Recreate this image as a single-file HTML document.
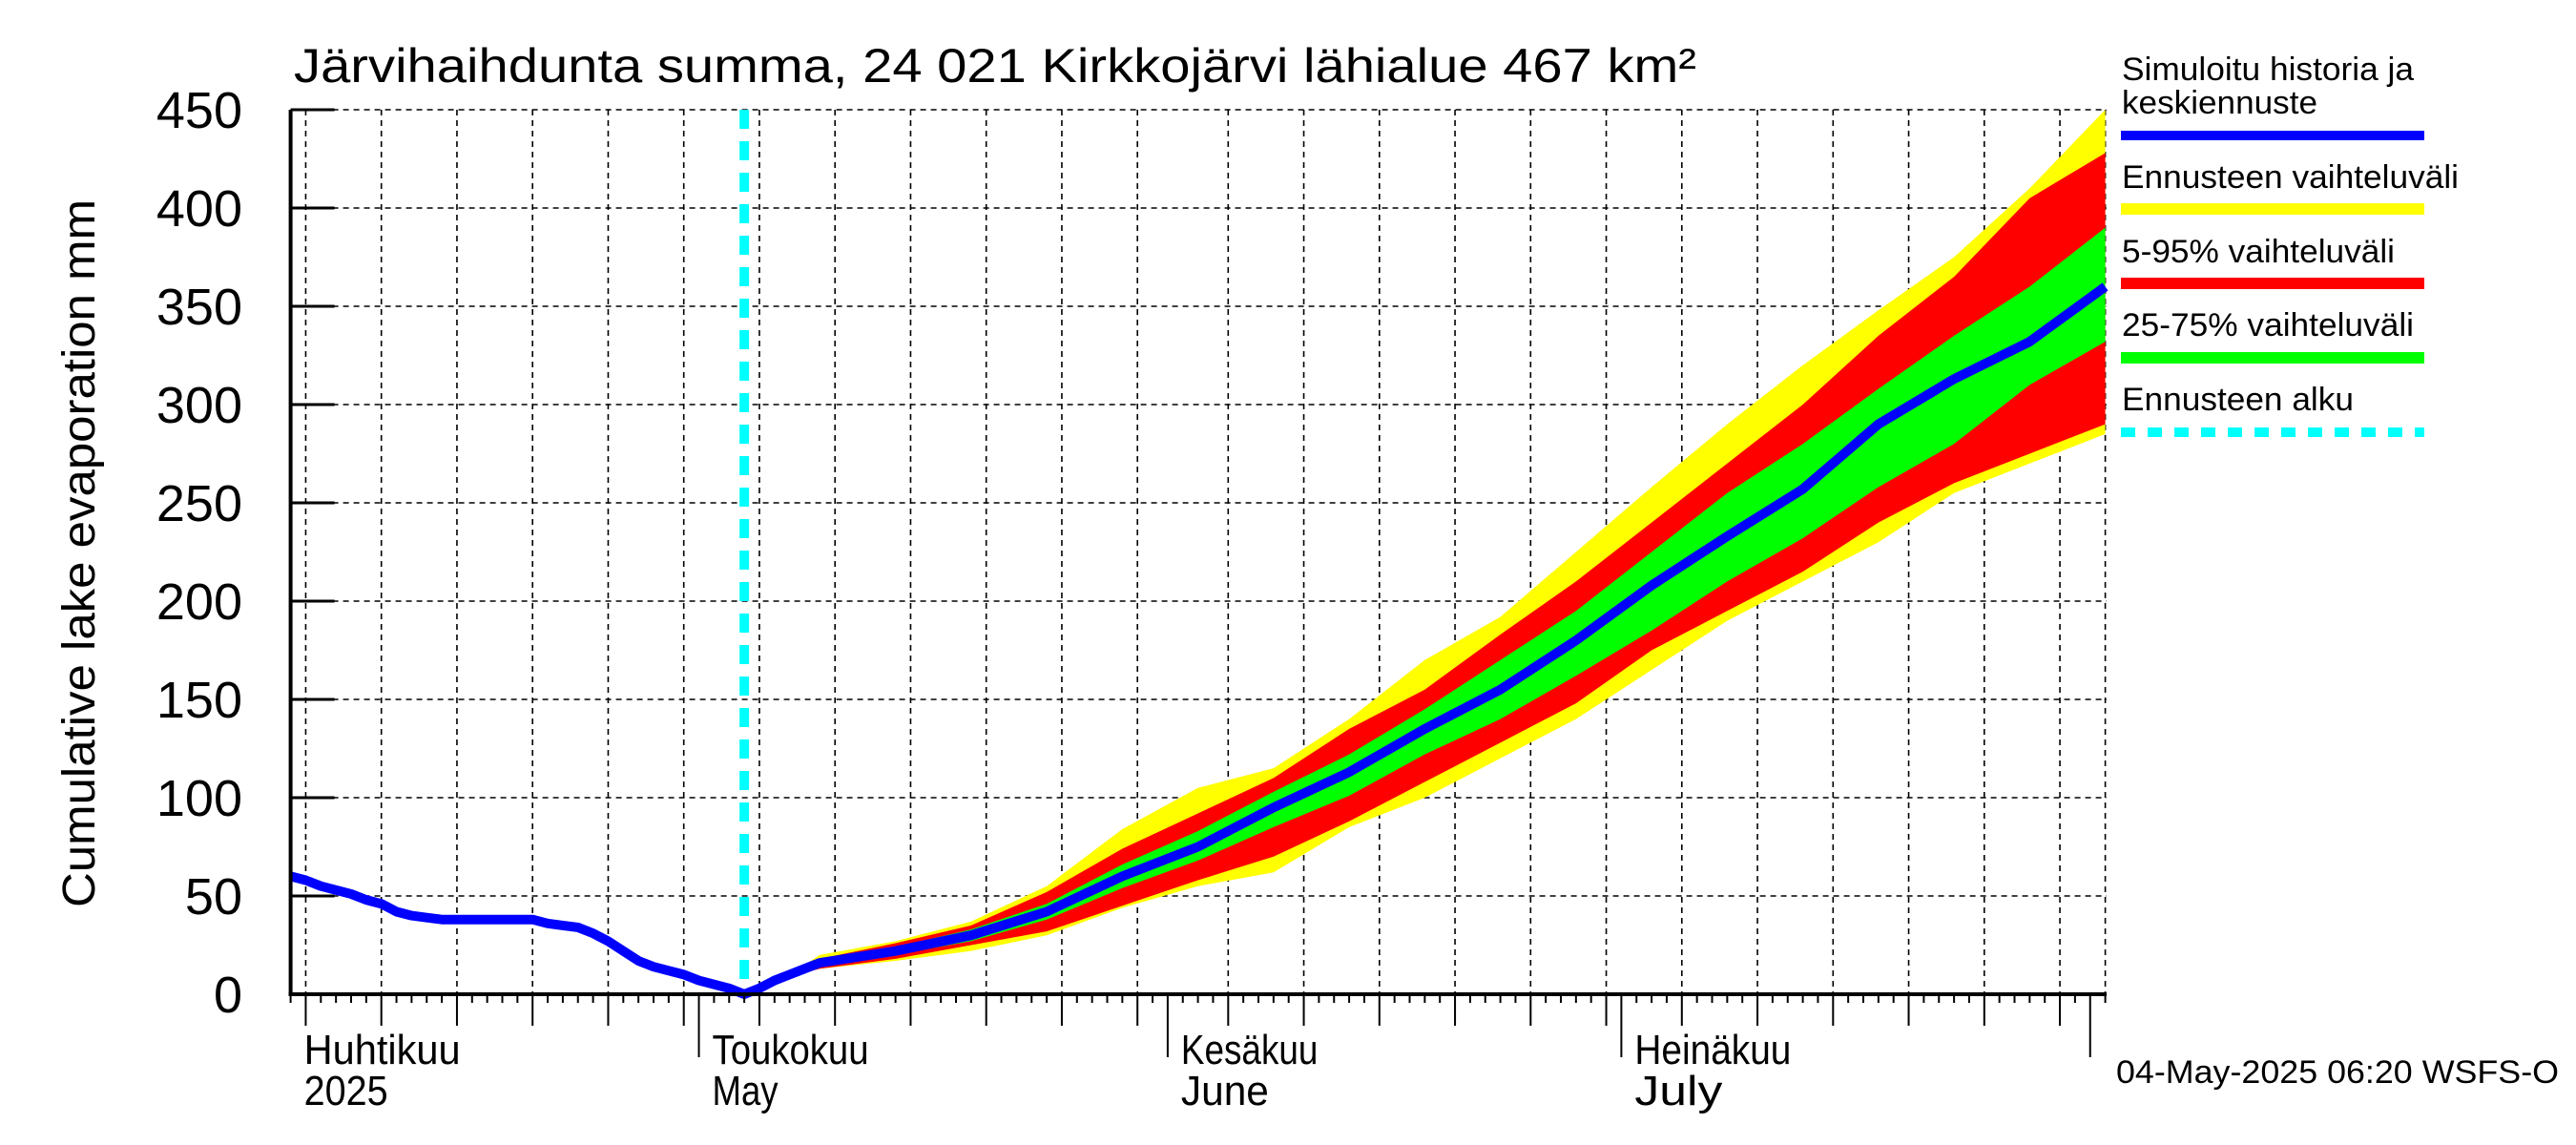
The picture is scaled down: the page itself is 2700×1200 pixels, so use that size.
<!DOCTYPE html>
<html><head><meta charset="utf-8"><style>
html,body{margin:0;padding:0;background:#fff;}
svg{display:block;font-family:"Liberation Sans",Arial,sans-serif;}
</style></head><body>
<svg id="chart" width="2700" height="1200" viewBox="0 0 2700 1200" xmlns="http://www.w3.org/2000/svg">
<g id="grid"></g>
<g id="bands"></g>
<g id="lines"></g>
<g id="axes"></g>
<text x="308" y="86" font-size="50" textLength="1470" lengthAdjust="spacingAndGlyphs">Järvihaihdunta summa, 24 021 Kirkkojärvi lähialue 467 km²</text>
<text transform="translate(99,580) rotate(-90)" text-anchor="middle" font-size="48" textLength="742" lengthAdjust="spacingAndGlyphs">Cumulative lake evaporation   mm</text>
<g font-size="34">
<text x="2224" y="84" textLength="306" lengthAdjust="spacingAndGlyphs">Simuloitu historia ja</text>
<text x="2224" y="119" textLength="205" lengthAdjust="spacingAndGlyphs">keskiennuste</text>
<rect x="2223" y="137" width="318" height="10" fill="#0000ff"/>
<text x="2224" y="197" textLength="353" lengthAdjust="spacingAndGlyphs">Ennusteen vaihteluväli</text>
<rect x="2223" y="213" width="318" height="12" fill="#ffff00"/>
<text x="2224" y="275" textLength="286" lengthAdjust="spacingAndGlyphs">5-95% vaihteluväli</text>
<rect x="2223" y="291" width="318" height="12" fill="#ff0000"/>
<text x="2224" y="352" textLength="306" lengthAdjust="spacingAndGlyphs">25-75% vaihteluväli</text>
<rect x="2223" y="369" width="318" height="12" fill="#00ff00"/>
<text x="2224" y="430" textLength="243" lengthAdjust="spacingAndGlyphs">Ennusteen alku</text>
<line x1="2223" y1="453" x2="2541" y2="453" stroke="#00ffff" stroke-width="10" stroke-dasharray="15 13"/>
</g>
<text x="2218" y="1135" font-size="34" textLength="464" lengthAdjust="spacingAndGlyphs">04-May-2025 06:20 WSFS-O</text>
</svg>
<script>
const historyDays = [0,1,2,3,4,5,6,7,8,9,10,11,12,13,14,15,16,17,18,19,20,21,22,23,24,25,26,27,28,29,30];
const historyValues = [60,58,55,53,51,48,46,42,40,39,38,38,38,38,38,38,38,36,35,34,31,27,22,17,14,12,10,7,5,3,0];
const forecastDays = [30,31,32,33,34,35,40,45,50,55,60,65,70,75,80,85,90,95,100,105,110,115,120];
const medianValues = [0,3,7,10,13,16,22,30,42,60,75,95,113,135,155,180,208,233,257,290,313,332,360];
const p25Values = [0,3,7,10,12,15,20,27,38,54,68,85,101,122,140,162,185,210,232,258,280,310,332];
const p75Values = [0,3,7,10,13,17,24,33,46,66,83,103,122,145,170,195,225,255,280,308,335,360,390];
const p5Values = [0,3,6,9,11,13,18,25,32,45,58,70,88,108,128,148,175,195,215,240,260,275,290];
const p95Values = [0,3,7,11,14,18,26,35,52,74,92,110,135,155,183,210,240,270,300,335,365,405,428];
const minValues = [0,3,6,9,11,13,17,22,30,44,55,62,85,100,120,140,165,190,210,230,255,270,285];
const maxValues = [0,3,8,11,15,20,27,37,55,84,105,115,140,170,192,225,258,290,320,348,375,410,450];
const yTicks = [0,50,100,150,200,250,300,350,400,450];
const gridDays = [1,6,11,16,21,26,31,36,41,46,51,56,62,67,72,77,82,87,92,97,102,107,112,117];
const monthDays = [27,58,88,119];
const monthLabels = [["Huhtikuu","2025",0],["Toukokuu","May",27],["Kesäkuu","June",58],["Heinäkuu","July",88]];
const forecastStartDay = 30;

const X0=304.6, PXD=15.85, Y0=1042, PXV=927/450, XR=2208;
const xs = d => X0 + d*PXD;
const ys = v => Y0 - v*PXV;
const NS="http://www.w3.org/2000/svg";
function mk(tag, parent, attrs){const e=document.createElementNS(NS,tag);for(const k in attrs)e.setAttribute(k,attrs[k]);parent.appendChild(e);return e;}
const grid=document.getElementById('grid'), bands=document.getElementById('bands'), lines=document.getElementById('lines'), axes=document.getElementById('axes');

yTicks.forEach(v=>{
  if(v>0){const g=mk('line',grid,{x1:X0,x2:XR,y1:ys(v),y2:ys(v),stroke:'#000','stroke-width':1.6,'stroke-dasharray':'6 5'});
  
  }
  const t=mk('line',axes,{x1:X0,x2:X0+46,y1:ys(v),y2:ys(v),stroke:'#000','stroke-width':3});
  
  
  const l=mk('text',axes,{x:254,y:ys(v)+19,'text-anchor':'end','font-size':54});
  l.textContent=v;
  
  
});
gridDays.concat([120]).forEach(d=>{
  const g=mk('line',grid,{x1:xs(d),x2:xs(d),y1:ys(450),y2:Y0,stroke:'#000','stroke-width':1.6,'stroke-dasharray':'6 5'});
  
  
});
for(let d=0; d<=120; d++){
  let len=9;
  if(gridDays.includes(d)) len=33;
  if(monthDays.includes(d)) len=66;
  const t=mk('line',axes,{x1:xs(d),x2:xs(d),y1:Y0,y2:Y0+len,stroke:'#000','stroke-width':2});
  
  
}
monthLabels.forEach(m=>{
  const x=Math.max(xs(m[2])+14, X0+3);
  const a=mk('text',axes,{x:x,y:1115,'font-size':44,textLength:m[0].length*20.5,lengthAdjust:'spacingAndGlyphs'});
  a.textContent=m[0];
  
  
  const b=mk('text',axes,{x:x,y:1158,'font-size':44,textLength:m[1].length*(m[1]=="2025"?22:23),lengthAdjust:'spacingAndGlyphs'});
  b.textContent=m[1];
  
  
});

function band(lo, hi, color, name){
  let p='M'+forecastDays.map((d,i)=>xs(d)+','+ys(hi[i])).join(' L');
  for(let i=forecastDays.length-1;i>=0;i--) p+=' L'+xs(forecastDays[i])+','+ys(lo[i]);
  const e=mk('path',bands,{d:p+' Z',fill:color});
  
  
}
band(minValues,maxValues,'#ffff00','band-min-max');
band(p5Values,p95Values,'#ff0000','band-5-95');
band(p25Values,p75Values,'#00ff00','band-25-75');

const cy=mk('line',lines,{x1:xs(forecastStartDay),x2:xs(forecastStartDay),y1:ys(450),y2:Y0,stroke:'#00ffff','stroke-width':10,'stroke-dasharray':'20 13'});



const pts=historyDays.map((d,i)=>xs(d)+','+ys(historyValues[i])).concat(forecastDays.slice(1).map((d,i)=>xs(d)+','+ys(medianValues[i+1])));
const bl=mk('polyline',lines,{points:pts.join(' '),fill:'none',stroke:'#0000ff','stroke-width':10,'stroke-linejoin':'round'});



const ax1=mk('line',axes,{x1:X0,x2:X0,y1:ys(450),y2:Y0+2,stroke:'#000','stroke-width':4});


const ax2=mk('line',axes,{x1:X0-2,x2:XR,y1:Y0,y2:Y0,stroke:'#000','stroke-width':4});


</script>
</body></html>
